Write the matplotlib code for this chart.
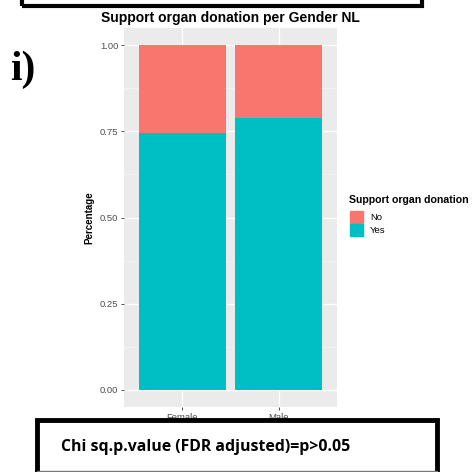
import matplotlib.pyplot as plt
import numpy as np
from matplotlib.patches import Rectangle

dpi = 100
W, H = 475, 472

genders = ['Female', 'Male']
share_yes = [0.746, 0.788]
share_no = [1 - v for v in share_yes]
responses = ['No', 'Yes']
colors = {'No': '#F8766D', 'Yes': '#00BFC4'}
y_ticks = [0.0, 0.25, 0.50, 0.75, 1.00]
y_ticklabels = ['0.00', '0.25', '0.50', '0.75', '1.00']

plt.rcParams['font.family'] = ['Liberation Sans', 'DejaVu Sans']


def px(x, y, w, h):
    """Pixel box (top-left origin) -> figure fraction rect."""
    return [x / W, 1 - (y + h) / H, w / W, h / H]


fig = plt.figure(figsize=(W / dpi, H / dpi), dpi=dpi)

# ggplot-style stacked proportion bars
ax = fig.add_axes(px(124, 28, 213, 379))
ax.set_facecolor('#EBEBEB')
x = np.arange(1, len(genders) + 1)
ax.bar(x, share_yes, width=0.9, color=colors['Yes'], zorder=3)
ax.bar(x, share_no, width=0.9, bottom=share_yes, color=colors['No'], zorder=3)

ax.set_xlim(0.4, 2.6)
ax.set_ylim(-0.05, 1.05)
ax.set_yticks(y_ticks)
ax.set_yticklabels(y_ticklabels)
ax.set_yticks([0.125, 0.375, 0.625, 0.875], minor=True)
ax.set_xticks(x)
ax.set_xticklabels(genders)
ax.grid(which='major', color='white', lw=1.0, zorder=1)
ax.grid(which='minor', axis='y', color='#F5F5F5', lw=0.5, zorder=1)
ax.tick_params(which='major', length=2.5, width=0.6, color='#333333',
               labelsize=6.8, labelcolor='#4D4D4D', pad=1.5)
ax.tick_params(which='minor', length=0)
for s in ax.spines.values():
    s.set_visible(False)
ax.set_ylabel('Percentage', fontsize=7, fontweight='bold', labelpad=4)
ax.set_title('Support organ donation per Gender NL', fontsize=10,
             fontweight='bold', pad=4)

# legend drawn by hand next to the panel
fig.text(349 / W, 1 - 200 / H, 'Support organ donation', fontsize=7.6,
         fontweight='bold', va='center', ha='left')
for i, r in enumerate(responses):
    ytop = 211 + i * 13
    fig.patches.append(Rectangle((350 / W, 1 - (ytop + 12) / H), 13 / W,
                                 12 / H, transform=fig.transFigure,
                                 color=colors[r]))
    fig.text(370 / W, 1 - (ytop + 6) / H, r, fontsize=6.8, va='center',
             ha='left')

fig.text(10 / W, 1 - 70 / H, 'i)', fontsize=30, fontweight='bold',
         family='Liberation Serif', va='center', ha='left')

# framed boxes above and below the chart, both running off the edge
fig.patches.append(Rectangle((22 / W, 1 - 6 / H), 400 / W, 30 / H,
                             transform=fig.transFigure, fill=False,
                             ec='black', lw=3))
fig.patches.append(Rectangle((37 / W, 1 - 490 / H), 400 / W, 70 / H,
                             transform=fig.transFigure, fill=True,
                             fc='white', ec='black', lw=3.5))
fig.patches.append(Rectangle((37 / W, 0), 400 / W, 1.2 / H,
                             transform=fig.transFigure, color='#777777'))
fig.text(61 / W, 1 - 447 / H, 'Chi sq.p.value (FDR adjusted)=p>0.05',
         fontsize=11.4, fontweight='bold', family=['Open Sans', 'DejaVu Sans'],
         va='center', ha='left')

fig.savefig('out.png', dpi=dpi)
